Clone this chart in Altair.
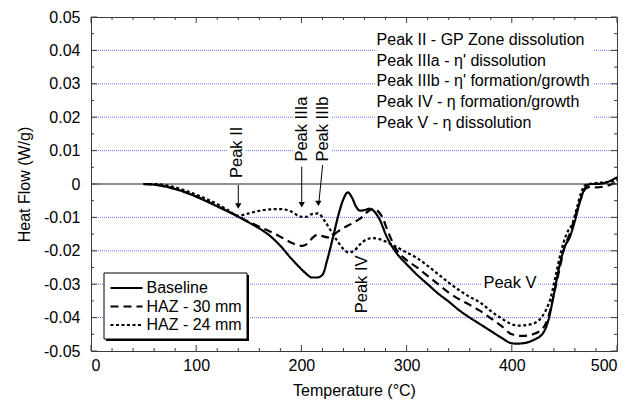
import altair as alt
import pandas as pd

# ---------------- data ----------------
series_names = ["Baseline", "HAZ - 30 mm", "HAZ - 24 mm"]

base_T = [50, 60, 70, 80, 90, 100, 110, 120, 130, 140, 150, 160, 170, 180, 190, 200,
          205, 210, 215, 220, 225, 230, 235, 240, 244, 248, 252, 256, 260, 265, 270,
          275, 280, 290, 300, 310, 320, 330, 340, 350, 360, 370, 380, 390, 400, 405,
          410, 420, 430, 435, 440, 445, 450, 455, 460, 465, 470, 475, 480, 490, 500]
base_HF = [0.0, -0.0002, -0.0007, -0.0015, -0.0025, -0.0038, -0.0052, -0.0067, -0.0082,
           -0.0098, -0.0115, -0.0133, -0.0155, -0.0185, -0.0222, -0.0255, -0.0270,
           -0.0280, -0.0280, -0.0272, -0.0222, -0.0160, -0.0095, -0.0045, -0.0025,
           -0.0040, -0.0068, -0.0080, -0.0078, -0.0074, -0.0085, -0.0110, -0.0150,
           -0.0205, -0.0240, -0.0272, -0.0300, -0.0328, -0.0352, -0.0378, -0.0400,
           -0.0420, -0.0440, -0.0460, -0.0477, -0.0478, -0.0477, -0.0468, -0.0445,
           -0.0405, -0.0330, -0.0250, -0.0190, -0.0160, -0.0110, -0.0050, -0.0010,
           0.0000, 0.0000, 0.0005, 0.0020]

haz30_T = [50, 60, 70, 80, 90, 100, 110, 120, 130, 140, 150, 160, 170, 180, 190, 196,
           201, 206, 211, 215, 220, 225, 230, 235, 240, 250, 258, 264, 269, 273, 277,
           282, 290, 300, 310, 320, 330, 340, 350, 360, 370, 380, 390, 400, 410, 420,
           430, 435, 440, 445, 450, 455, 460, 465, 470, 475, 480, 490, 500]
haz30_HF = [0.0, -0.0002, -0.0007, -0.0015, -0.0025, -0.0037, -0.0051, -0.0066, -0.0081,
            -0.0097, -0.0113, -0.0128, -0.0142, -0.0158, -0.0175, -0.0183, -0.0185,
            -0.0178, -0.0160, -0.0152, -0.0156, -0.0160, -0.0153, -0.0142, -0.0132,
            -0.0115, -0.0098, -0.0080, -0.0075, -0.0082, -0.0100, -0.0140, -0.0195,
            -0.0228, -0.0250, -0.0275, -0.0300, -0.0325, -0.0345, -0.0362, -0.0380,
            -0.0402, -0.0425, -0.0450, -0.0455, -0.0450, -0.0430, -0.0395, -0.0330,
            -0.0260, -0.0190, -0.0150, -0.0100, -0.0050, -0.0015, -0.0008, -0.0010,
            -0.0006, 0.0005]

haz24_T = [50, 60, 70, 80, 90, 100, 110, 120, 130, 140, 150, 160, 170, 180, 190, 200,
           205, 210, 216, 222, 228, 234, 240, 245, 250, 256, 262, 268, 274, 280, 290,
           300, 310, 320, 330, 340, 350, 360, 370, 380, 390, 400, 405, 415, 425, 432,
           437, 442, 447, 452, 458, 462, 466, 470, 480, 490, 500]
haz24_HF = [0.0, 0.0, -0.0003, -0.0010, -0.0020, -0.0032, -0.0045, -0.0060, -0.0078,
            -0.0095, -0.0088, -0.0080, -0.0076, -0.0075, -0.0082, -0.0098, -0.0098,
            -0.0090, -0.0088, -0.0110, -0.0140, -0.0170, -0.0195, -0.0205, -0.0200,
            -0.0180, -0.0166, -0.0162, -0.0165, -0.0172, -0.0188, -0.0205, -0.0222,
            -0.0245, -0.0270, -0.0295, -0.0318, -0.0338, -0.0355, -0.0380, -0.0402,
            -0.0420, -0.0424, -0.0422, -0.0410, -0.0380, -0.0340, -0.0270, -0.0200,
            -0.0150, -0.0115, -0.0070, -0.0025, -0.0003, 0.0003, 0.0005, 0.0012]

x_major = [0, 100, 200, 300, 400, 500]
x_minor = [20, 40, 60, 80, 120, 140, 160, 180, 220, 240, 260, 280,
           320, 340, 360, 380, 420, 440, 460, 480]
y_major = [-0.05, -0.04, -0.03, -0.02, -0.01, 0.0, 0.01, 0.02, 0.03, 0.04, 0.05]
y_minor = [-0.045, -0.035, -0.025, -0.015, -0.005, 0.005, 0.015, 0.025, 0.035, 0.045]
grid_vals = [-0.04, -0.03, -0.02, -0.01, 0.01, 0.02, 0.03, 0.04]

note_lines = ["Peak II - GP Zone dissolution",
              "Peak IIIa - \u03b7' dissolution",
              "Peak IIIb - \u03b7' formation/growth",
              "Peak IV - \u03b7 formation/growth",
              "Peak V - \u03b7 dissolution"]
note_T = [271.5] * 5
note_HF = [0.0430, 0.0369, 0.0307, 0.0246, 0.0184]

vlabel_text = ["Peak II", "Peak IIIa", "Peak IIIb", "Peak IV"]
vlabel_T = [138.5, 200.3, 220.8, 257.6]
vlabel_HF = [0.0018, 0.0067, 0.0067, -0.0387]

peakV_T = [398.3]
peakV_HF = [-0.0297]

arrow_T1 = [140.0, 200.3, 220.2]
arrow_T2 = [140.0, 200.3, 216.4]
arrow_HF1 = [-0.0003, 0.0052, 0.0057]
arrow_HF2 = [-0.0070, -0.0066, -0.0062]
head_T = [140.0, 200.3, 216.1]
head_HF = [-0.0066, -0.0062, -0.0058]

mask_T1 = [270.0, 130.2, 192.0, 249.8, 371.7]
mask_T2 = [478.0, 147.3, 229.0, 265.0, 425.0]
mask_HF1 = [0.0459, 0.0174, 0.0255, -0.0222, -0.0273]
mask_HF2 = [0.0153, 0.0012, 0.0063, -0.0393, -0.0321]

# ---------------- build chart ----------------
W, H = 526, 334
FONT = "Liberation Sans"
FS = 16
FRAME = "#3a3a3a"
DASHES = [[1, 0], [8, 5], [3, 2.5]]

xs = alt.Scale(domain=[0, 500], nice=False, zero=False)
ys = alt.Scale(domain=[-0.05, 0.05], nice=False, zero=False)

xaxis = alt.Axis(values=x_major, format="d", ticks=False, domain=False, grid=False,
                 labelFontSize=FS, labelFont=FONT, labelPadding=6, labelColor="black",
                 title="Temperature (\u00b0C)", titleFont=FONT, titleFontSize=FS,
                 titleFontWeight="normal", titlePadding=9, titleColor="black")
yaxis = alt.Axis(values=y_major, ticks=False, domain=False, grid=False,
                 labelExpr="datum.value == 0 ? '0' : (datum.value < 0 ? '-' + format(-datum.value, '.2f') : format(datum.value, '.2f'))",
                 labelFontSize=FS, labelFont=FONT, labelPadding=11, labelColor="black",
                 title="Heat Flow (W/g)", titleFont=FONT, titleFontSize=FS,
                 titleFontWeight="normal", titlePadding=11, titleColor="black")


def X(field):
    return alt.X(field, scale=xs, axis=xaxis)


def Y(field):
    return alt.Y(field, scale=ys, axis=yaxis)


curves = pd.concat([
    pd.DataFrame({"T": base_T, "HF": base_HF, "series": series_names[0]}),
    pd.DataFrame({"T": haz30_T, "HF": haz30_HF, "series": series_names[1]}),
    pd.DataFrame({"T": haz24_T, "HF": haz24_HF, "series": series_names[2]}),
])

grid = alt.Chart(pd.DataFrame({"v": grid_vals})).mark_rule(
    color="#6f6fff", strokeWidth=1, strokeDash=[1, 1]
).encode(y=Y("v:Q"))

masks = alt.Chart(pd.DataFrame({"t1": mask_T1, "t2": mask_T2, "h1": mask_HF1, "h2": mask_HF2})).mark_rect(
    fill="white"
).encode(x=X("t1:Q"), x2="t2:Q", y=Y("h1:Q"), y2="h2:Q")

zero = alt.Chart(pd.DataFrame({"v": [0.0]})).mark_rule(
    color="#6a6a6a", strokeWidth=1.3
).encode(y=Y("v:Q"))

lines = alt.Chart(curves).mark_line(color="black", strokeWidth=2.2, interpolate="monotone").encode(
    x=X("T:Q"),
    y=Y("HF:Q"),
    strokeDash=alt.StrokeDash("series:N",
                              scale=alt.Scale(domain=series_names, range=DASHES),
                              legend=None),
    order=alt.Order("T:Q"),
)

arrows = alt.Chart(pd.DataFrame({"t1": arrow_T1, "t2": arrow_T2, "h1": arrow_HF1, "h2": arrow_HF2})).mark_rule(
    color="black", strokeWidth=1
).encode(x=X("t1:Q"), x2="t2:Q", y=Y("h1:Q"), y2="h2:Q")

heads = alt.Chart(pd.DataFrame({"t": head_T, "h": head_HF})).mark_point(
    shape="triangle-down", filled=True, size=40, color="black", opacity=1
).encode(x=X("t:Q"), y=Y("h:Q"))

notes = alt.Chart(pd.DataFrame({"txt": note_lines, "t": note_T, "h": note_HF})).mark_text(
    align="left", baseline="middle", font=FONT, fontSize=FS, color="black"
).encode(x=X("t:Q"), y=Y("h:Q"), text="txt:N")

vlabels = alt.Chart(pd.DataFrame({"txt": vlabel_text, "t": vlabel_T, "h": vlabel_HF})).mark_text(
    align="left", baseline="middle", angle=270, font=FONT, fontSize=16.5, color="black"
).encode(x=X("t:Q"), y=Y("h:Q"), text="txt:N")

peakv = alt.Chart(pd.DataFrame({"txt": ["Peak V"], "t": peakV_T, "h": peakV_HF})).mark_text(
    align="center", baseline="middle", font=FONT, fontSize=16.5, color="black"
).encode(x=X("t:Q"), y=Y("h:Q"), text="txt:N")


def tick_layer(vals, channel, length, side):
    df = pd.DataFrame({"v": vals})
    base = alt.Chart(df).mark_rule(color=FRAME, strokeWidth=1)
    if channel == "x":
        if side == "bottom":
            return base.encode(x=X("v:Q"), y=alt.value(H), y2=alt.value(H - length))
        return base.encode(x=X("v:Q"), y=alt.value(0), y2=alt.value(length))
    if side == "left":
        return base.encode(y=Y("v:Q"), x=alt.value(0), x2=alt.value(length))
    return base.encode(y=Y("v:Q"), x=alt.value(W), x2=alt.value(W - length))


ticks = [
    tick_layer(x_major, "x", 6, "bottom"), tick_layer(x_minor, "x", 3, "bottom"),
    tick_layer(x_major, "x", 6, "top"), tick_layer(x_minor, "x", 3, "top"),
    tick_layer(y_major, "y", 6, "left"), tick_layer(y_minor, "y", 3, "left"),
    tick_layer(y_major, "y", 6, "right"), tick_layer(y_minor, "y", 3, "right"),
]

# ---- legend box (drawn by hand, with its drop shadow) ----
LX0, LX1, LY0, LY1 = 13, 156, 256, 322
row_y = [271, 289.5, 308]
legend_parts = [
    alt.Chart(pd.DataFrame({"a": [0]})).mark_rect(fill="black").encode(
        x=alt.value(LX0 + 2), x2=alt.value(LX1 + 2), y=alt.value(LY0 + 2), y2=alt.value(LY1 + 2)),
    alt.Chart(pd.DataFrame({"a": [0]})).mark_rect(fill="white", stroke="black", strokeWidth=1).encode(
        x=alt.value(LX0), x2=alt.value(LX1), y=alt.value(LY0), y2=alt.value(LY1)),
]
for i, name in enumerate(series_names):
    legend_parts.append(
        alt.Chart(pd.DataFrame({"a": [0]})).mark_rule(
            color="black", strokeWidth=2.2, strokeDash=DASHES[i]
        ).encode(x=alt.value(19.5), x2=alt.value(51.5), y=alt.value(row_y[i]))
    )
    legend_parts.append(
        alt.Chart(pd.DataFrame({"a": [0]})).mark_text(
            align="left", baseline="middle", font=FONT, fontSize=FS, color="black"
        ).encode(x=alt.value(55.5), y=alt.value(row_y[i]), text=alt.value(name))
    )

chart = alt.layer(
    grid, masks, zero, lines, arrows, heads, notes, vlabels, peakv, *ticks, *legend_parts
).properties(
    width=W, height=H,
    autosize=alt.AutoSizeParams(type="none"),
    padding={"left": 91, "top": 17, "right": 26, "bottom": 55},
    background="white",
).configure_view(
    stroke=FRAME, strokeWidth=1
)

chart.save("out.html", embed_options={"renderer": "svg", "actions": False})
